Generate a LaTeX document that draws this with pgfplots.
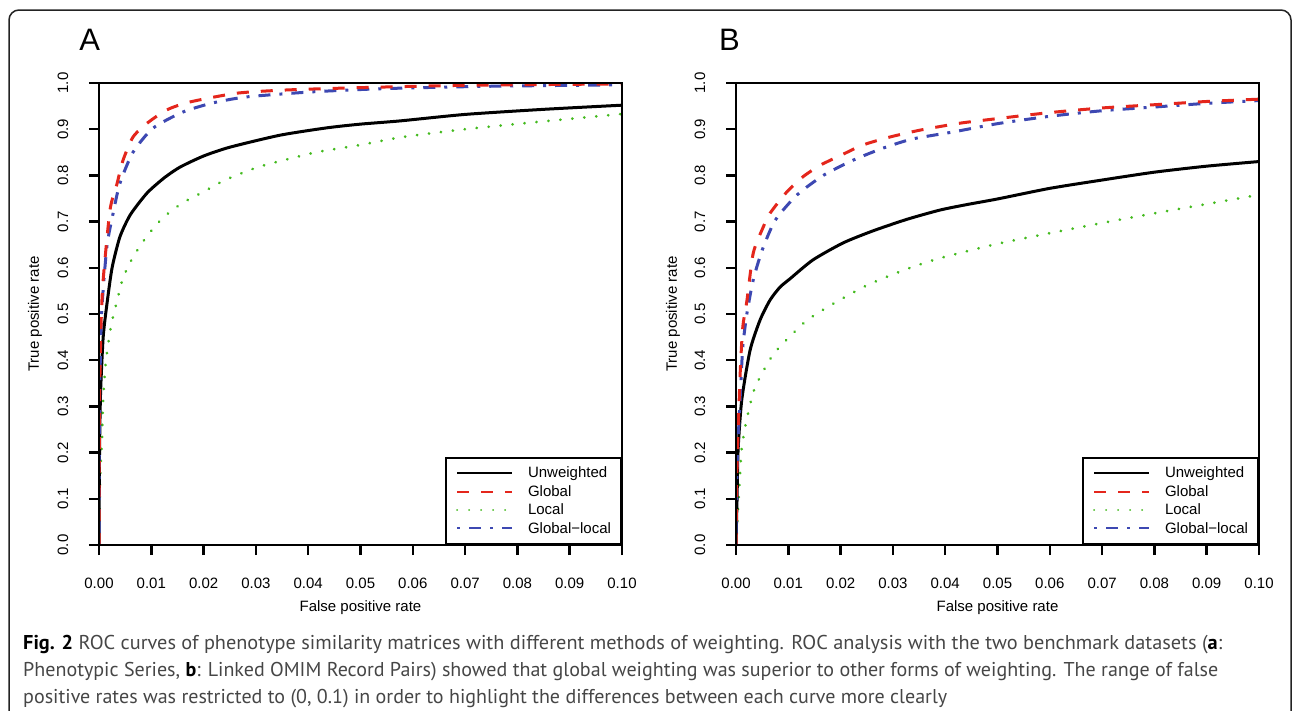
\documentclass[border=0pt]{standalone}
\usepackage{fontspec}
\setmainfont{Liberation Sans}
\newfontfamily\capfont{PT Sans}
\usepackage{graphicx}
\usepackage{pgfplots}
\pgfplotsset{compat=1.18}
\definecolor{rred}{RGB}{228,38,28}
\definecolor{rgreen}{RGB}{67,186,30}
\definecolor{rblue}{RGB}{61,72,178}
\definecolor{capgray}{RGB}{70,70,70}
\definecolor{framegray}{RGB}{35,35,35}
\pgfplotsset{
 rocaxis/.style={
  scale only axis, width=523pt, height=462pt,
  xmin=0, xmax=0.1, ymin=0, ymax=1,
  axis on top,
  axis line style={line width=2.5pt},
  xtick={0,0.01,0.02,0.03,0.04,0.05,0.06,0.07,0.08,0.09,0.1},
  xticklabels={0.00,0.01,0.02,0.03,0.04,0.05,0.06,0.07,0.08,0.09,0.10},
  ytick={0,0.1,0.2,0.3,0.4,0.5,0.6,0.7,0.8,0.9,1},
  yticklabels={0.0,0.1,0.2,0.3,0.4,0.5,0.6,0.7,0.8,0.9,1.0},
  tick align=outside, major tick length=10pt,
  every tick/.style={line width=2.5pt, black},
  xtick pos=bottom, ytick pos=left,
  tick label style={font=\fontsize{15}{18}\selectfont, inner sep=0pt},
  xticklabel style={anchor=north, yshift=-22.6pt},
  yticklabel style={xshift=-20.6pt, rotate=90, anchor=south},
  label style={font=\fontsize{15}{18}\selectfont},
  xlabel={False positive rate},
  ylabel={True positive rate},
  xlabel style={at={(axis description cs:0.5,-0.1364)}, anchor=center},
  ylabel style={at={(axis description cs:-0.1224,0.5)}, anchor=center, rotate=0},
  legend style={at={(rel axis cs:1,0)}, anchor=south east, draw=black, line width=2pt,
    font=\fontsize{15}{18}\selectfont, inner xsep=10pt, inner ysep=9.5pt,
    row sep=6pt, column sep=15pt, nodes={inner sep=0pt}},
  legend cell align=left,
  legend image code/.code={\draw[#1] (0pt,0pt) -- (55pt,0pt);},
 },
 unw/.style={black, line width=3pt},
 glob/.style={rred, line width=3pt, dash pattern=on 12pt off 12pt},
 loc/.style={rgreen, line width=3pt, line cap=round, dash pattern=on 0.01pt off 12pt},
 gl/.style={rblue, line width=3pt, dash pattern=on 3pt off 9pt on 12pt off 9pt},
 sm/.style={smooth, tension=0.4},
}
\begin{document}
\begin{tikzpicture}
\useasboundingbox (0pt,0pt) rectangle (1293pt,-710pt);
\draw[line width=1.5pt, framegray, rounded corners=10pt] (9pt,-740pt) -- (9pt,-10pt) -- (1291pt,-10pt) -- (1291pt,-740pt);
\node[anchor=base, inner sep=0pt, font=\fontsize{31}{36}\selectfont] at (89.7pt,-50.7pt) {A};
\node[anchor=base, inner sep=0pt, font=\fontsize{31}{36}\selectfont] at (729.5pt,-50.7pt) {B};

\begin{axis}[rocaxis, at={(99pt,-545pt)}, anchor=south west]
\addlegendimage{unw, line width=2pt}\addlegendentry{Unweighted}
\addlegendimage{glob, line width=2pt}\addlegendentry{Global}
\addlegendimage{loc, line width=2pt}\addlegendentry{Local}
\addlegendimage{gl, line width=2pt}\addlegendentry{Global−local}
\addplot[loc, sm, forget plot] coordinates {(0,0) (0.0002,0.134) (0.0006,0.238) (0.0008,0.316) (0.0013,0.396) (0.0023,0.474) (0.0034,0.526) (0.0046,0.578) (0.0065,0.623) (0.0092,0.669) (0.0122,0.708) (0.0159,0.74) (0.0199,0.764) (0.0241,0.79) (0.0304,0.818) (0.0371,0.838) (0.0419,0.851) (0.05,0.866) (0.058,0.883) (0.07,0.9) (0.085,0.917) (0.1,0.933)};
\addplot[unw, sm, forget plot] coordinates {(0,0) (0.0001,0.2) (0.0003,0.33) (0.0008,0.45) (0.0015,0.52) (0.0025,0.6) (0.004,0.667) (0.006,0.715) (0.0092,0.762) (0.0125,0.795) (0.0155,0.818) (0.02,0.842) (0.025,0.861) (0.0346,0.887) (0.0436,0.903) (0.05,0.911) (0.0576,0.918) (0.07,0.932) (0.085,0.943) (0.1,0.952)};
\addplot[gl, sm, forget plot] coordinates {(0,0) (0.0001,0.3) (0.0005,0.5) (0.0015,0.645) (0.0027,0.718) (0.004,0.783) (0.0065,0.85) (0.0103,0.902) (0.016,0.937) (0.0218,0.957) (0.0283,0.97) (0.041,0.981) (0.055,0.988) (0.075,0.993) (0.1,0.996)};
\addplot[glob, sm, forget plot] coordinates {(0,0) (0.0001,0.3) (0.0004,0.48) (0.0008,0.574) (0.0021,0.725) (0.0034,0.78) (0.0046,0.833) (0.0065,0.883) (0.0092,0.913) (0.013,0.942) (0.0174,0.959) (0.0264,0.978) (0.036,0.985) (0.05,0.99) (0.07,0.995) (0.1,0.998)};
\end{axis}

\begin{axis}[rocaxis, at={(736pt,-545pt)}, anchor=south west,
  ylabel style={at={(axis description cs:-0.1205,0.5)}}]
\addlegendimage{unw, line width=2pt}\addlegendentry{Unweighted}
\addlegendimage{glob, line width=2pt}\addlegendentry{Global}
\addlegendimage{loc, line width=2pt}\addlegendentry{Local}
\addlegendimage{gl, line width=2pt}\addlegendentry{Global−local}
\addplot[loc, sm, forget plot] coordinates {(0,0) (0.0004,0.08) (0.0008,0.158) (0.0011,0.21) (0.0019,0.264) (0.0036,0.34) (0.0069,0.409) (0.01,0.448) (0.0134,0.485) (0.0172,0.513) (0.0212,0.539) (0.0252,0.563) (0.0296,0.584) (0.0338,0.602) (0.0384,0.619) (0.0428,0.632) (0.05,0.652) (0.06,0.675) (0.07,0.697) (0.08,0.718) (0.09,0.738) (0.1,0.758)};
\addplot[unw, sm, forget plot] coordinates {(0,0) (0.0002,0.1) (0.0004,0.206) (0.0011,0.314) (0.0027,0.422) (0.0046,0.487) (0.0065,0.53) (0.0084,0.558) (0.0103,0.576) (0.0147,0.617) (0.0205,0.654) (0.0262,0.68) (0.0327,0.705) (0.039,0.725) (0.0442,0.737) (0.05,0.749) (0.06,0.772) (0.07,0.79) (0.08,0.807) (0.09,0.82) (0.1,0.83)};
\addplot[gl, sm, forget plot] coordinates {(0,0) (0.0002,0.17) (0.0008,0.32) (0.0013,0.429) (0.0021,0.502) (0.0033,0.574) (0.005,0.638) (0.0075,0.703) (0.0117,0.758) (0.0167,0.8) (0.0224,0.833) (0.0281,0.859) (0.0338,0.879) (0.0415,0.894) (0.05,0.912) (0.06,0.928) (0.07,0.94) (0.08,0.948) (0.09,0.956) (0.1,0.962)};
\addplot[glob, sm, forget plot] coordinates {(0,0) (0.0002,0.17) (0.0008,0.372) (0.0013,0.472) (0.0021,0.53) (0.0033,0.632) (0.0052,0.688) (0.0065,0.718) (0.0097,0.764) (0.0128,0.797) (0.0161,0.822) (0.0205,0.846) (0.0243,0.866) (0.0294,0.883) (0.0352,0.898) (0.0428,0.913) (0.05,0.923) (0.06,0.936) (0.07,0.946) (0.08,0.953) (0.09,0.96) (0.1,0.965)};
\end{axis}

\begin{scope}[every node/.style={anchor=base west, inner sep=0pt, font=\capfont\fontsize{20}{24}\selectfont, text=capgray}]
\node at (23pt,-649pt) {\resizebox{1199pt}{\height}{\textcolor{black}{\textbf{Fig. 2}} ROC curves of phenotype similarity matrices with different methods of weighting. ROC analysis with the two benchmark datasets (\textcolor{black}{\textbf{a}}:}};
\node at (23pt,-676pt) {\resizebox{1195pt}{\height}{Phenotypic Series, \textcolor{black}{\textbf{b}}: Linked OMIM Record Pairs) showed that global weighting was superior to other forms of weighting. The range of false}};
\node at (23pt,-703pt) {\resizebox{924pt}{\height}{positive rates was restricted to (0, 0.1) in order to highlight the differences between each curve more clearly}};
\end{scope}
\end{tikzpicture}
\end{document}
